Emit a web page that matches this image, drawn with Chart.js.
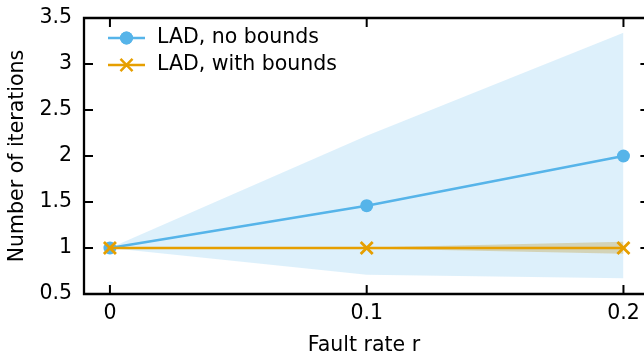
<!DOCTYPE html>
<html lang="en">
<head>
<meta charset="UTF-8" />
<title>Number of iterations vs fault rate</title>
<script src="https://cdn.jsdelivr.net/npm/chart.js"></script>
<style>
  html, body { margin: 0; padding: 0; background: #fff; }
</style>
</head>
<body>
<canvas id="iterChart" width="644" height="358"></canvas>
<script>
// data
const faultRates = [0, 0.1, 0.2];
const seriesNames = ["LAD, no bounds", "LAD, with bounds"];
const noBoundsMean = [1, 1.46, 2.0];
const noBoundsUpper = [1, 2.22, 3.34];
const noBoundsLower = [1, 0.71, 0.67];
const withBoundsMean = [1, 1, 1];
const withBoundsUpper = [1, 1.005, 1.068];
const withBoundsLower = [1, 0.995, 0.938];
const xTicks = [0, 0.1, 0.2];
const yTicks = [0.5, 1, 1.5, 2, 2.5, 3, 3.5];

const BLUE = "#56B4E9";
const ORANGE = "#E69F00";
const FONT = { family: "'DejaVu Sans', sans-serif", size: 20.5 };
const X_RIGHT = 0.2101;   // where the right axis would sit (off canvas)
const TICK = 9;

Chart.defaults.font.family = FONT.family;
Chart.defaults.font.size = FONT.size;
Chart.defaults.color = "#000";

function pts(vals) {
  return faultRates.map((r, i) => ({ x: r, y: vals[i] }));
}

// box with inward ticks on all sides
const framePlugin = {
  id: "frame",
  afterDraw(chart) {
    const { ctx, chartArea: a, scales: { x, y } } = chart;
    const right = x.getPixelForValue(X_RIGHT);
    ctx.save();
    ctx.strokeStyle = "#000";
    ctx.lineWidth = 2.3;
    ctx.beginPath();
    ctx.moveTo(right, a.top);
    ctx.lineTo(a.left, a.top);
    ctx.lineTo(a.left, a.bottom);
    ctx.lineTo(right, a.bottom);
    ctx.stroke();

    ctx.lineWidth = 2;
    ctx.beginPath();
    xTicks.forEach(v => {
      const px = x.getPixelForValue(v);
      ctx.moveTo(px, a.bottom); ctx.lineTo(px, a.bottom - TICK);
      ctx.moveTo(px, a.top); ctx.lineTo(px, a.top + TICK);
    });
    yTicks.forEach(v => {
      const py = y.getPixelForValue(v);
      ctx.moveTo(a.left, py); ctx.lineTo(a.left + TICK, py);
      ctx.moveTo(right, py); ctx.lineTo(right - TICK, py);
    });
    ctx.stroke();
    ctx.restore();
  }
};

// legend with line + marker samples
const legendPlugin = {
  id: "lineLegend",
  afterDraw(chart) {
    const ctx = chart.ctx;
    const items = [
      { text: seriesNames[0], color: BLUE, style: "circle", radius: 6.5, bw: 0 },
      { text: seriesNames[1], color: ORANGE, style: "crossRot", radius: 8.5, bw: 2.8 }
    ];
    ctx.save();
    items.forEach((it, i) => {
      const yy = 38 + i * 27;
      ctx.strokeStyle = it.color;
      ctx.lineWidth = 2.5;
      ctx.beginPath();
      ctx.moveTo(108, yy); ctx.lineTo(145, yy);
      ctx.stroke();
      ctx.fillStyle = it.color;
      Chart.helpers.drawPoint(ctx, {
        pointStyle: it.style, radius: it.radius, borderWidth: it.bw, rotation: 0
      }, 126.5, yy);
      if (it.style === "circle") ctx.fill();
      ctx.fillStyle = "#000";
      ctx.font = FONT.size + "px " + FONT.family;
      ctx.textBaseline = "middle";
      ctx.fillText(it.text, 157, yy);
    });
    ctx.restore();
  }
};

new Chart(document.getElementById("iterChart"), {
  type: "line",
  data: {
    datasets: [
      {
        label: seriesNames[1], data: pts(withBoundsMean),
        borderColor: ORANGE, backgroundColor: ORANGE, borderWidth: 2.6,
        pointStyle: "crossRot", pointRadius: 8.5, pointBorderWidth: 2.8,
        pointBorderColor: ORANGE, fill: false
      },
      {
        label: "with bounds upper", data: pts(withBoundsUpper),
        borderColor: "transparent", borderWidth: 0, pointRadius: 0,
        backgroundColor: "rgba(190,150,40,0.32)", fill: "+1"
      },
      {
        label: "with bounds lower", data: pts(withBoundsLower),
        borderColor: "transparent", borderWidth: 0, pointRadius: 0, fill: false
      },
      {
        label: seriesNames[0], data: pts(noBoundsMean),
        borderColor: BLUE, backgroundColor: BLUE, borderWidth: 2.5,
        pointStyle: "circle", pointRadius: 6.5, pointBorderWidth: 0, fill: false
      },
      {
        label: "no bounds upper", data: pts(noBoundsUpper),
        borderColor: "transparent", borderWidth: 0, pointRadius: 0,
        backgroundColor: "rgba(86,180,233,0.2)", fill: "+1"
      },
      {
        label: "no bounds lower", data: pts(noBoundsLower),
        borderColor: "transparent", borderWidth: 0, pointRadius: 0, fill: false
      }
    ]
  },
  options: {
    responsive: false,
    animation: false,
    layout: { autoPadding: false, padding: { top: 18, right: 0, left: 0, bottom: 0 } },
    plugins: {
      legend: { display: false },
      tooltip: { enabled: false }
    },
    scales: {
      x: {
        type: "linear",
        min: -0.0101,
        max: 0.208,
        afterBuildTicks: s => { s.ticks = xTicks.map(v => ({ value: v })); },
        afterFit: s => { s.height = 64; s.paddingLeft = 0; s.paddingRight = 0; },
        grid: { display: false, drawTicks: false },
        border: { display: false },
        ticks: {
          padding: 7, maxRotation: 0, autoSkip: false, color: "#000",
          callback: v => String(v)
        },
        title: { display: true, text: "Fault rate r", color: "#000", padding: { top: 0, bottom: 0 } }
      },
      y: {
        min: 0.5,
        max: 3.5,
        afterBuildTicks: s => { s.ticks = yTicks.map(v => ({ value: v })); },
        afterFit: s => { s.width = 84; s.paddingTop = 0; s.paddingBottom = 0; },
        grid: { display: false, drawTicks: false },
        border: { display: false },
        ticks: { padding: 12, color: "#000", callback: v => String(v) },
        title: { display: true, text: "Number of iterations", color: "#000", padding: { top: 5, bottom: 0 } }
      }
    }
  },
  plugins: [framePlugin, legendPlugin]
});
</script>
</body>
</html>
